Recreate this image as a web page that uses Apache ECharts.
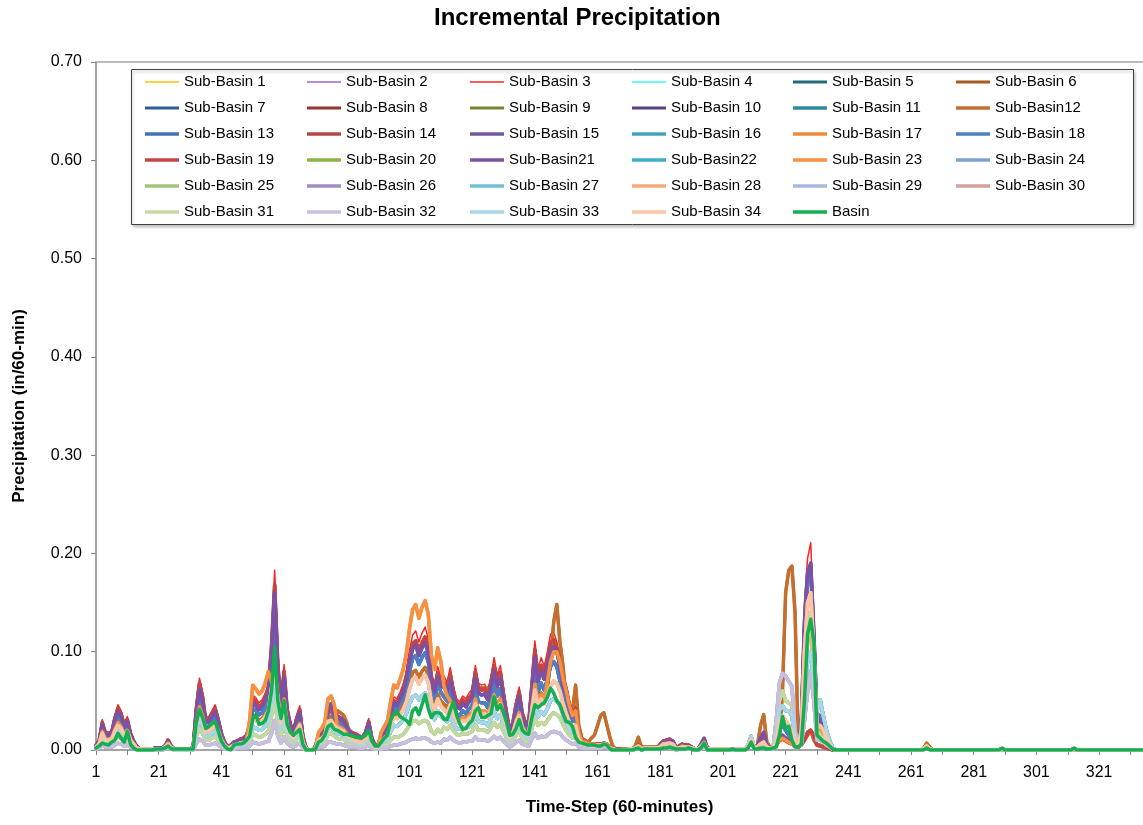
<!DOCTYPE html>
<html>
<head>
<meta charset="utf-8">
<script src="https://cdn.jsdelivr.net/npm/echarts@6/dist/echarts.min.js"></script>
<style>html,body{margin:0;padding:0;background:#fff}#c{width:1143px;height:825px}</style>
</head>
<body>
<div id="c"></div>
<script>
// ---- categories (time steps 1..335) ----
const stepCount = 335;
const timeSteps = [];
for (let i = 1; i <= stepCount; i++) timeSteps.push(String(i));

// ---- value profiles (in/60-min), steps 1..240 ----
const redVals = [
.005,.010,.031,.018,.018,.020,.035,.046,.040,.027,
.034,.018,.010,.004,.001,.001,.001,.001,.001,.002,
.002,.002,.005,.011,.004,.001,.001,.001,.001,.001,
.001,.003,.045,.073,.058,.033,.034,.040,.046,.034,
.018,.009,.004,.005,.009,.010,.012,.013,.016,.026,
.056,.053,.048,.051,.058,.068,.115,.183,.095,.049,
.087,.045,.028,.021,.035,.045,.015,.002,0,0,
.004,.015,.019,.024,.044,.047,.039,.036,.034,.032,
.025,.021,.018,.017,.015,.014,.020,.032,.013,.005,
.006,.015,.020,.025,.040,.054,.052,.059,.067,.080,
.101,.117,.121,.110,.119,.125,.113,.079,.067,.085,
.074,.075,.069,.084,.065,.052,.049,.055,.052,.058,
.062,.086,.068,.066,.067,.060,.075,.094,.076,.086,
.062,.040,.021,.030,.050,.064,.040,.030,.028,.070,
.111,.082,.094,.085,.100,.118,.120,.110,.095,.075,
.067,.050,.040,.045,.020,.010,.008,.006,.006,.006,
.006,.006,.007,.006,.003,.001,.001,.001,0,0,
.001,.001,.002,.006,.002,.003,.003,.003,.003,.003,
.006,.010,.011,.012,.010,.003,.004,.006,.005,.005,
.003,.001,.001,.004,.008,.002,.001,.001,.001,.001,
.001,.001,.001,.001,.001,.001,.001,.001,.003,.008,
.002,.003,.008,.012,.004,.002,.002,.005,.008,.010,
.008,.006,.005,.004,.003,.040,.150,.195,.211,.130,
.040,.035,.025,.015,.008,.002,0,0,0,0];

const darkVals = [
.005,.009,.028,.017,.017,.018,.032,.042,.037,.025,
.031,.017,.009,.004,.001,.001,.001,.001,.001,.002,
.002,.002,.004,.010,.004,.001,.001,.001,.001,.001,
.001,.003,.042,.068,.054,.030,.031,.037,.042,.031,
.017,.008,.004,.005,.008,.009,.011,.012,.015,.024,
.052,.049,.044,.047,.053,.063,.106,.168,.087,.045,
.080,.041,.026,.019,.032,.041,.014,.002,0,0,
.004,.014,.017,.022,.040,.043,.036,.033,.031,.029,
.023,.019,.017,.016,.014,.013,.018,.029,.012,.005,
.006,.014,.018,.023,.037,.050,.048,.054,.062,.074,
.093,.108,.111,.101,.109,.115,.104,.073,.062,.078,
.068,.069,.063,.077,.060,.048,.045,.051,.048,.053,
.057,.079,.063,.061,.062,.055,.069,.086,.070,.079,
.057,.037,.019,.028,.046,.059,.037,.028,.026,.064,
.102,.075,.086,.078,.092,.109,.112,.104,.090,.070,
.062,.046,.037,.042,.019,.010,.008,.006,.006,.006,
.006,.006,.007,.006,.003,.001,.001,.001,0,0,
.001,.001,.002,.005,.002,.002,.002,.002,.002,.002,
.006,.009,.010,.011,.009,.003,.004,.006,.005,.005,
.003,.001,.001,.005,.010,.002,.001,.001,.001,.001,
.001,.001,.001,.001,.001,.001,.001,.001,.003,.008,
.002,.004,.010,.015,.004,.002,.002,.005,.010,.012,
.010,.008,.006,.004,.003,.005,.010,.018,.020,.015,
.005,.004,.003,.002,.001,0,0,0,0,0];

const purpleVals = [
.004,.009,.026,.015,.015,.017,.030,.039,.034,.023,
.029,.015,.009,.003,.001,.001,.001,.001,.001,.002,
.002,.002,.004,.009,.003,.001,.001,.001,.001,.001,
.001,.003,.038,.062,.049,.028,.029,.034,.039,.029,
.015,.008,.003,.004,.008,.009,.010,.011,.014,.022,
.048,.045,.041,.044,.050,.060,.098,.160,.081,.042,
.074,.038,.024,.018,.030,.038,.013,.002,0,0,
.003,.015,.019,.024,.044,.047,.039,.034,.032,.030,
.024,.018,.015,.014,.013,.012,.017,.027,.011,.004,
.005,.013,.017,.022,.035,.048,.045,.052,.059,.071,
.089,.103,.107,.096,.104,.109,.099,.069,.059,.075,
.065,.064,.059,.071,.055,.044,.042,.047,.044,.049,
.053,.073,.058,.056,.057,.051,.064,.080,.065,.073,
.053,.034,.018,.026,.043,.054,.034,.026,.024,.060,
.094,.070,.080,.072,.085,.100,.105,.100,.085,.065,
.057,.043,.034,.038,.017,.009,.007,.005,.005,.005,
.005,.005,.007,.006,.002,.001,0,0,0,0,
.001,.001,.002,.004,.001,.002,.002,.002,.002,.002,
.005,.009,.009,.010,.009,.003,.003,.005,.004,.004,
.003,.001,.001,.006,.012,.002,.001,.001,.001,.001,
.001,.001,.001,.001,.001,.001,.001,.001,.003,.009,
.002,.004,.012,.018,.005,.002,.002,.006,.012,.015,
.012,.010,.008,.004,.003,.030,.130,.180,.190,.120,
.035,.030,.022,.013,.007,.001,0,0,0,0];

const blueVals = [
.004,.007,.022,.013,.013,.014,.025,.033,.029,.019,
.024,.013,.007,.003,.001,.001,.001,.001,.001,.001,
.001,.001,.004,.008,.003,.001,.001,.001,.001,.001,
.001,.002,.032,.053,.042,.024,.024,.029,.033,.024,
.013,.006,.003,.004,.006,.007,.009,.009,.012,.020,
.042,.040,.036,.038,.044,.052,.083,.140,.068,.035,
.063,.032,.020,.015,.025,.032,.011,.001,0,0,
.003,.013,.016,.020,.037,.040,.033,.029,.027,.025,
.020,.015,.013,.012,.011,.010,.014,.023,.009,.004,
.004,.012,.016,.020,.032,.043,.041,.047,.053,.064,
.080,.093,.096,.087,.094,.099,.090,.062,.053,.068,
.059,.054,.050,.060,.047,.037,.035,.040,.037,.042,
.045,.062,.049,.048,.048,.043,.054,.068,.055,.062,
.045,.029,.015,.022,.036,.046,.029,.022,.020,.050,
.080,.059,.068,.061,.072,.085,.090,.085,.070,.055,
.048,.036,.029,.032,.014,.008,.006,.005,.005,.005,
.005,.005,.007,.006,.002,.001,0,0,0,0,
.001,.001,.002,.004,.001,.002,.002,.002,.002,.002,
.004,.007,.008,.009,.007,.002,.003,.004,.004,.004,
.002,.001,.001,.004,.009,.001,.001,.001,.001,.001,
.001,.001,.001,.001,.001,.001,.001,.001,.003,.010,
.002,.003,.008,.010,.004,.002,.002,.008,.020,.025,
.020,.015,.010,.005,.003,.025,.120,.170,.185,.110,
.030,.035,.025,.015,.008,.001,0,0,0,0];

const orangeVals = [
.003,.006,.019,.011,.011,.012,.021,.028,.024,.016,
.020,.011,.006,.002,.001,.001,.001,.001,.001,.001,
.001,.001,.003,.007,.002,.001,.001,.001,.001,.001,
.001,.002,.027,.044,.035,.020,.020,.024,.028,.020,
.011,.005,.002,.003,.005,.006,.007,.008,.010,.030,
.066,.062,.057,.060,.068,.080,.069,.080,.057,.029,
.052,.027,.017,.013,.021,.027,.009,.001,0,0,
.002,.018,.022,.028,.052,.055,.046,.024,.023,.021,
.017,.013,.011,.010,.009,.008,.012,.019,.008,.003,
.004,.018,.024,.030,.049,.066,.063,.072,.082,.098,
.123,.143,.148,.134,.145,.152,.138,.096,.082,.104,
.090,.065,.055,.050,.039,.031,.029,.033,.031,.035,
.037,.052,.041,.040,.040,.036,.045,.056,.046,.052,
.037,.024,.013,.018,.030,.038,.024,.018,.017,.042,
.067,.049,.056,.051,.070,.090,.100,.100,.090,.072,
.060,.045,.035,.040,.018,.009,.008,.006,.006,.006,
.005,.005,.007,.006,.002,.001,0,0,0,0,
.001,.001,.002,.004,.001,.002,.002,.002,.002,.002,
.004,.006,.007,.007,.006,.002,.002,.004,.003,.003,
.002,.001,.001,.004,.008,.001,.001,.001,.001,.001,
.001,.001,.001,.001,.001,.001,.001,.001,.003,.008,
.002,.003,.006,.008,.003,.002,.002,.004,.010,.012,
.010,.008,.006,.004,.003,.015,.080,.120,.130,.080,
.020,.020,.016,.010,.005,.001,0,0,0,0];

const brownVals = [
.003,.006,.019,.011,.011,.012,.022,.029,.025,.017,
.021,.011,.006,.002,.001,.001,.001,.001,.001,.001,
.001,.001,.003,.007,.002,.001,.001,.001,.001,.001,
.001,.002,.028,.045,.036,.020,.021,.025,.029,.021,
.011,.006,.002,.003,.006,.006,.007,.008,.010,.017,
.035,.033,.030,.032,.036,.042,.071,.113,.059,.030,
.054,.028,.017,.013,.022,.028,.009,.001,0,0,
.002,.011,.014,.017,.032,.034,.029,.040,.038,.035,
.028,.013,.011,.011,.009,.009,.012,.020,.008,.003,
.004,.010,.013,.017,.027,.036,.035,.040,.045,.054,
.068,.079,.081,.074,.080,.084,.076,.053,.045,.057,
.050,.047,.043,.052,.040,.032,.030,.034,.032,.036,
.038,.053,.063,.063,.063,.063,.063,.063,.063,.062,
.040,.025,.013,.019,.031,.040,.025,.019,.017,.043,
.069,.051,.058,.053,.062,.090,.130,.148,.110,.085,
.050,.040,.040,.066,.025,.012,.010,.008,.012,.015,
.025,.035,.038,.025,.012,.003,.001,.001,.001,.001,
.001,.001,.004,.013,.003,.003,.003,.003,.003,.003,
.004,.006,.007,.007,.006,.002,.002,.004,.003,.003,
.002,.001,.001,.005,.011,.001,.001,.001,.001,.001,
.001,.001,.001,.001,.001,.001,.001,.001,.003,.008,
.003,.005,.025,.036,.008,.003,.003,.008,.010,.060,
.160,.183,.187,.140,.008,.005,.010,.015,.020,.010,
.005,.005,.004,.003,.002,0,0,0,0,0];

const peachVals = [
.003,.006,.017,.010,.010,.011,.019,.025,.022,.015,
.019,.010,.006,.002,.001,.001,.001,.001,.001,.001,
.001,.001,.003,.006,.002,.001,.001,.001,.001,.001,
.001,.002,.025,.040,.032,.018,.019,.022,.025,.019,
.010,.005,.002,.003,.005,.006,.007,.007,.009,.016,
.032,.030,.028,.030,.034,.040,.063,.085,.052,.027,
.048,.025,.015,.012,.019,.025,.008,.001,0,0,
.002,.010,.012,.015,.029,.030,.025,.022,.021,.019,
.015,.012,.010,.009,.008,.008,.011,.018,.007,.003,
.003,.009,.012,.015,.025,.033,.032,.036,.041,.049,
.062,.072,.074,.067,.073,.076,.069,.048,.041,.052,
.045,.041,.038,.046,.036,.029,.027,.030,.029,.032,
.034,.047,.037,.036,.037,.033,.041,.052,.042,.047,
.034,.022,.012,.017,.028,.035,.022,.017,.015,.039,
.061,.045,.052,.047,.055,.065,.070,.068,.060,.047,
.037,.028,.022,.025,.011,.007,.006,.005,.004,.004,
.005,.005,.006,.005,.002,.001,0,0,0,0,
.001,.001,.002,.004,.001,.002,.002,.002,.002,.002,
.003,.006,.006,.007,.006,.002,.002,.003,.003,.003,
.002,.001,.001,.003,.007,.001,.001,.001,.001,.001,
.001,.001,.001,.001,.001,.001,.001,.001,.004,.011,
.002,.003,.006,.008,.003,.002,.002,.008,.030,.035,
.030,.025,.020,.008,.004,.020,.100,.150,.160,.100,
.025,.025,.020,.012,.006,.001,0,0,0,0];

const lightVals = [
.002,.004,.013,.008,.008,.008,.015,.019,.017,.011,
.014,.008,.004,.002,0,0,0,0,0,.001,
.001,.001,.002,.005,.002,0,0,0,0,0,
0,.001,.019,.031,.024,.014,.014,.017,.019,.014,
.008,.004,.002,.002,.004,.004,.005,.005,.007,.012,
.024,.022,.020,.021,.024,.028,.048,.065,.040,.021,
.037,.019,.012,.009,.015,.019,.006,.001,0,0,
.002,.008,.009,.012,.022,.023,.019,.017,.016,.015,
.012,.009,.008,.007,.006,.006,.008,.013,.005,.002,
.003,.007,.009,.011,.019,.025,.024,.027,.031,.037,
.047,.054,.056,.051,.055,.058,.052,.036,.031,.040,
.034,.032,.029,.035,.027,.022,.021,.023,.022,.024,
.026,.036,.029,.028,.028,.025,.032,.039,.032,.036,
.026,.017,.009,.013,.021,.027,.017,.013,.012,.029,
.047,.034,.039,.036,.042,.050,.052,.050,.046,.036,
.028,.021,.017,.018,.008,.006,.005,.004,.004,.004,
.004,.004,.006,.005,.001,0,0,0,0,0,
0,0,.001,.003,.001,.001,.001,.001,.001,.001,
.003,.004,.005,.005,.004,.001,.002,.003,.002,.002,
.001,0,0,.003,.006,.001,0,0,0,0,
0,0,0,.001,0,0,0,0,.005,.014,
.001,.002,.005,.006,.002,.001,.001,.015,.040,.045,
.040,.040,.035,.010,.004,.010,.060,.090,.100,.070,
.040,.051,.035,.020,.010,.002,0,0,0,0];

const greenVals = [
.002,.003,.009,.005,.005,.006,.011,.014,.012,.008,
.010,.005,.003,.001,0,0,0,0,0,.001,
.001,.001,.002,.003,.001,0,0,0,0,0,
0,.001,.014,.022,.017,.010,.010,.012,.014,.010,
.005,.003,.001,.002,.003,.003,.004,.004,.005,.009,
.016,.015,.013,.014,.016,.019,.035,.050,.028,.015,
.026,.014,.008,.006,.011,.014,.005,0,0,0,
.001,.005,.007,.008,.016,.017,.014,.012,.011,.011,
.008,.006,.005,.005,.005,.004,.006,.010,.004,.002,
.002,.004,.005,.006,.010,.013,.013,.014,.016,.020,
.025,.029,.030,.027,.029,.030,.028,.019,.016,.021,
.018,.023,.021,.025,.020,.016,.015,.017,.016,.017,
.019,.026,.020,.020,.020,.018,.023,.028,.023,.026,
.019,.012,.006,.009,.015,.019,.012,.009,.008,.021,
.033,.025,.028,.026,.030,.035,.038,.036,.033,.026,
.020,.015,.012,.013,.006,.005,.004,.003,.003,.003,
.003,.003,.005,.004,.001,0,0,0,0,0,
0,0,.001,.003,.001,.001,.001,.001,.001,.001,
.002,.003,.003,.004,.003,.001,.001,.002,.002,.002,
.001,0,0,.002,.005,.001,0,0,0,0,
0,0,0,.001,0,0,0,0,.004,.012,
.001,.001,.004,.005,.002,.001,.002,.020,.050,.060,
.050,.048,.045,.012,.004,.010,.060,.110,.140,.090,
.020,.015,.012,.008,.004,.001,0,0,0,0];

const lowVals = [
.001,.002,.005,.003,.003,.003,.005,.007,.006,.004,
.005,.003,.002,.001,0,0,0,0,0,0,
0,0,.001,.002,.001,0,0,0,0,0,
0,0,.007,.011,.009,.005,.005,.006,.007,.005,
.003,.001,.001,.001,.001,.002,.002,.002,.002,.004,
.008,.007,.006,.007,.008,.009,.017,.030,.014,.007,
.013,.007,.004,.003,.005,.007,.002,0,0,0,
.001,.003,.003,.004,.008,.008,.007,.006,.006,.005,
.004,.003,.003,.003,.002,.002,.003,.005,.002,.001,
.001,.001,.002,.002,.004,.005,.005,.006,.007,.008,
.010,.011,.012,.011,.012,.012,.011,.008,.007,.008,
.007,.011,.010,.013,.010,.008,.007,.008,.008,.009,
.009,.013,.010,.010,.010,.009,.011,.014,.011,.013,
.009,.006,.003,.005,.008,.010,.006,.005,.004,.011,
.017,.012,.014,.013,.015,.018,.019,.018,.017,.013,
.010,.008,.006,.007,.003,.002,.002,.002,.002,.002,
.002,.002,.003,.003,.001,0,0,0,0,0,
0,0,.001,.002,0,.001,.001,.001,.001,.001,
.001,.002,.002,.002,.002,0,.001,.001,.001,.001,
.001,0,0,.001,.003,0,0,0,0,0,
0,0,0,0,0,0,0,0,.003,.010,
.001,.001,.003,.004,.001,.001,.002,.030,.068,.078,
.075,.070,.065,.020,.005,.005,.030,.060,.080,.050,
.010,.010,.008,.005,.003,.001,0,0,0,0];

const basinVals = [
.002,.004,.007,.006,.005,.008,.010,.017,.012,.008,
.019,.006,.002,0,0,0,0,0,0,.001,
.001,.001,.002,.004,.001,.001,.001,.001,.001,.001,
.001,.001,.028,.041,.033,.022,.024,.027,.029,.019,
.009,.004,.001,0,.005,.006,.006,.007,.010,.014,
.032,.036,.026,.027,.030,.040,.060,.104,.050,.032,
.050,.026,.018,.015,.018,.021,.006,0,0,0,
.001,.008,.010,.015,.024,.026,.021,.020,.018,.016,
.016,.015,.014,.013,.013,.013,.015,.020,.009,.004,
.004,.008,.012,.015,.030,.037,.039,.034,.032,.030,
.026,.040,.043,.036,.046,.056,.042,.033,.038,.038,
.037,.031,.031,.040,.049,.036,.027,.021,.022,.027,
.030,.040,.043,.033,.033,.035,.037,.054,.041,.046,
.038,.028,.015,.016,.022,.031,.020,.017,.016,.032,
.046,.043,.046,.048,.054,.063,.058,.050,.046,.037,
.029,.028,.024,.013,.008,.007,.006,.005,.005,.005,
.004,.004,.006,.005,.001,0,0,0,0,0,
0,0,.001,.002,0,.001,.001,.001,.001,.001,
.001,.002,.002,.003,.002,.001,.001,.001,.001,.002,
.001,0,0,.002,.007,0,0,0,0,0,
0,0,0,.001,0,0,0,0,.002,.008,
.001,.001,.002,.002,.001,.001,.002,.003,.015,.034,
.022,.024,.010,.003,.003,.006,.050,.118,.133,.110,
.015,.012,.009,.007,.004,.001,0,0,0,0];

// ---- steps 241..335 ----
const tailSub = [
0,0,0,0,0,0,0,0,0,0,
0,0,0,0,0,0,0,0,0,0,
0,0,0,0,.001,.004,.001,0,0,0,
0,0,0,0,0,0,0,0,0,0,
0,0,0,0,0,0,0,0,0,.001,
0,0,0,0,0,0,0,0,0,0,
0,0,0,0,0,0,0,0,0,0,
0,0,.001,0,0,0,0,0,0,0,
0,0,0,0,0,0,0,0,0,0,
0,0,0,0,0];
const tailBrown = [
0,0,0,0,0,0,0,0,0,0,
0,0,0,0,0,0,0,0,0,0,
0,0,0,0,.002,.007,.003,0,0,0,
0,0,0,0,0,0,0,0,0,0,
0,0,0,0,0,0,0,0,0,.001,
0,0,0,0,0,0,0,0,0,0,
0,0,0,0,0,0,0,0,0,0,
0,0,.001,0,0,0,0,0,0,0,
0,0,0,0,0,0,0,0,0,0,
0,0,0,0,0];
const tailBasin = [
0,0,0,0,0,0,0,0,0,0,
0,0,0,0,0,0,0,0,0,0,
0,0,0,0,0,.002,0,0,0,0,
0,0,0,0,0,0,0,0,0,0,
0,0,0,0,0,0,0,0,0,.002,
0,0,0,0,0,0,0,0,0,0,
0,0,0,0,0,0,0,0,0,0,
0,0,.002,0,0,0,0,0,0,0,
0,0,0,0,0,0,0,0,0,0,
0,0,0,0,0];

// ---- series names, colours, widths, and which profile each follows ----
const seriesNames = ['Sub-Basin 1','Sub-Basin 2','Sub-Basin 3','Sub-Basin 4','Sub-Basin 5','Sub-Basin 6',
 'Sub-Basin 7','Sub-Basin 8','Sub-Basin 9','Sub-Basin 10','Sub-Basin 11','Sub-Basin12',
 'Sub-Basin 13','Sub-Basin 14','Sub-Basin 15','Sub-Basin 16','Sub-Basin 17','Sub-Basin 18',
 'Sub-Basin 19','Sub-Basin 20','Sub-Basin21','Sub-Basin22','Sub-Basin 23','Sub-Basin 24',
 'Sub-Basin 25','Sub-Basin 26','Sub-Basin 27','Sub-Basin 28','Sub-Basin 29','Sub-Basin 30',
 'Sub-Basin 31','Sub-Basin 32','Sub-Basin 33','Sub-Basin 34','Basin'];
const seriesColors = ['#FFC000','#9E63D2','#FF2020','#3DF5F5','#276A7C','#A45A22',
 '#2F5D99','#993333','#71892E','#5C4082','#3088A0','#C46F2D',
 '#4472B8','#B94646','#7458A0','#42A4BC','#EC8A3C','#4D7FC2',
 '#C44545','#8DB446','#7952A8','#3BAECA','#F79040','#7EA0D3',
 '#A5C47C','#A08AC2','#70BFD5','#F8A97A','#A8B8DC','#D4A09E',
 '#C4D8A2','#C9BFDD','#A8D6E6','#FBC6A4','#14AF50'];
const seriesWidths = [1.5,1.5,1.5,1.5,3,3,3,3,3,3,3.5,3.5,3.5,3.5,3.5,3.5,3.5,3.5,3.5,3.5,3.5,3.5,3.5,3.5,3.5,3.5,3.5,3.5,3.5,3.5,3.5,3.5,3.5,3.5,3.5];
const seriesProfile = ['green','purple','red','light','blue','brown',
 'blue','dark','green','purple','light','brown',
 'blue','dark','purple','light','orange','blue',
 'dark','green','purple','light','orange','low',
 'green','low','light','peach','low','peach',
 'green','low','light','peach','basin'];

const profiles = {
  red: redVals.concat(tailSub), dark: darkVals.concat(tailSub), purple: purpleVals.concat(tailSub),
  blue: blueVals.concat(tailSub), orange: orangeVals.concat(tailSub), brown: brownVals.concat(tailBrown),
  peach: peachVals.concat(tailSub), light: lightVals.concat(tailSub), green: greenVals.concat(tailSub),
  low: lowVals.concat(tailSub), basin: basinVals.concat(tailBasin)
};

const FONT = '"Liberation Sans", Arial, sans-serif';

const series = seriesNames.map((name, i) => ({
  type: 'line', name: name, data: profiles[seriesProfile[i]],
  symbol: 'none', showSymbol: false, silent: true, animation: false,
  color: seriesColors[i],
  lineStyle: { color: seriesColors[i], width: seriesWidths[i], join: 'round', cap: 'round' },
  emphasis: { disabled: true }
}));

// legend layout: 6 columns x 6 rows, one legend per entry
const legendCols = [
  ['Sub-Basin 1','Sub-Basin 7','Sub-Basin 13','Sub-Basin 19','Sub-Basin 25','Sub-Basin 31'],
  ['Sub-Basin 2','Sub-Basin 8','Sub-Basin 14','Sub-Basin 20','Sub-Basin 26','Sub-Basin 32'],
  ['Sub-Basin 3','Sub-Basin 9','Sub-Basin 15','Sub-Basin21','Sub-Basin 27','Sub-Basin 33'],
  ['Sub-Basin 4','Sub-Basin 10','Sub-Basin 16','Sub-Basin22','Sub-Basin 28','Sub-Basin 34'],
  ['Sub-Basin 5','Sub-Basin 11','Sub-Basin 17','Sub-Basin 23','Sub-Basin 29','Basin'],
  ['Sub-Basin 6','Sub-Basin12','Sub-Basin 18','Sub-Basin 24','Sub-Basin 30']
];
const legendLeft = [145, 307, 470, 632, 793, 956];
const legendRowCenter = [82, 108, 134, 160, 186, 212];
const legends = [];
legendCols.forEach((col, c) => {
  col.forEach((name, r) => {
    const idx = seriesNames.indexOf(name);
    const w = seriesWidths[idx];
    legends.push({
      data: [{ name: name, icon: 'rect' }], orient: 'horizontal',
      left: legendLeft[c], top: legendRowCenter[r] - 8, padding: 0,
      itemWidth: 34, itemHeight: w <= 1.5 ? 1.5 : (w <= 3 ? 3 : 3.5), selectedMode: false,
      textStyle: { fontSize: 15, color: '#000', fontFamily: FONT, lineHeight: 16, padding: [0, 0, 0, 0] }
    });
  });
});

const chart = echarts.init(document.getElementById('c'), null, { renderer: 'canvas' });
chart.setOption({
  animation: false,
  backgroundColor: '#fff',
  textStyle: { fontFamily: FONT },
  title: { text: 'Incremental Precipitation', left: 434, top: 6, padding: 0,
    textStyle: { fontSize: 24, fontWeight: 'bold', color: '#000', fontFamily: FONT } },
  graphic: [{ type: 'rect', z: 0, left: 131, top: 69,
    shape: { width: 1002, height: 155 },
    style: { fill: '#fff', stroke: '#404040', lineWidth: 1,
      shadowBlur: 3, shadowOffsetX: 1, shadowOffsetY: 2, shadowColor: 'rgba(0,0,0,0.25)' } }],
  legend: legends,
  grid: { left: 96, right: 0, top: 62, bottom: 75, containLabel: false },
  xAxis: [{
    type: 'category', data: timeSteps, boundaryGap: false,
    axisLine: { lineStyle: { color: '#868686', width: 1.5 } },
    axisTick: { interval: 9, length: 5, lineStyle: { color: '#868686' } },
    axisLabel: { interval: 19, margin: 15, fontSize: 16, color: '#000', fontFamily: FONT },
    splitLine: { show: false },
    name: 'Time-Step (60-minutes)', nameLocation: 'middle', nameGap: 49,
    nameTextStyle: { fontSize: 17, fontWeight: 'bold', color: '#000', fontFamily: FONT }
  }, {
    type: 'category', data: timeSteps, boundaryGap: false, position: 'top',
    axisLine: { lineStyle: { color: '#A6A6A6', width: 1.5 } },
    axisTick: { show: false }, axisLabel: { show: false }, splitLine: { show: false }
  }],
  yAxis: {
    type: 'value', min: 0, max: 0.7, interval: 0.1,
    axisLine: { show: true, lineStyle: { color: '#868686', width: 1.5 } },
    axisTick: { show: true, length: 5, lineStyle: { color: '#868686' } },
    splitLine: { show: false },
    axisLabel: { formatter: v => v.toFixed(2), fontSize: 16, margin: 14, color: '#000', fontFamily: FONT },
    name: 'Precipitation (in/60-min)', nameLocation: 'middle', nameGap: 68, nameRotate: 90,
    nameTextStyle: { fontSize: 17, fontWeight: 'bold', color: '#000', fontFamily: FONT }
  },
  series: series
});
</script>
</body>
</html>
